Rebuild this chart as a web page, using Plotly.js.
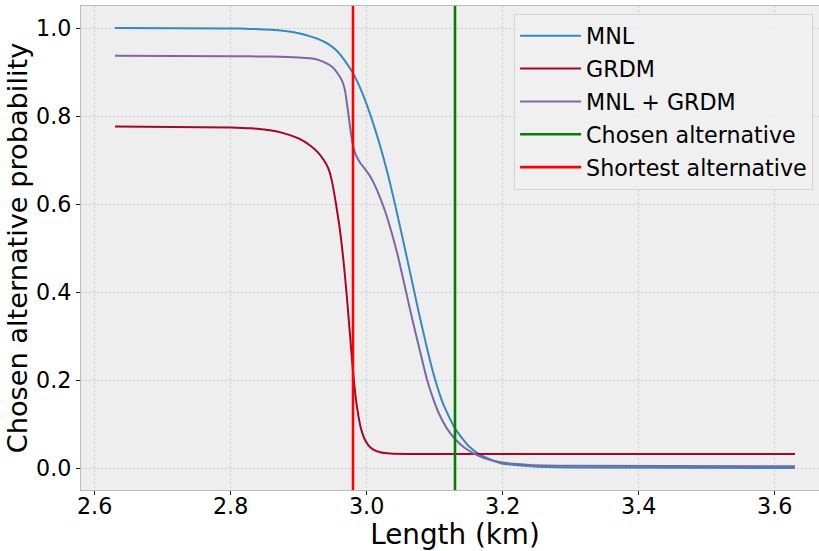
<!DOCTYPE html>
<html>
<head>
<meta charset="utf-8">
<script src="https://cdn.plot.ly/plotly-3.0.1.min.js"></script>
<style>
html,body{margin:0;padding:0;overflow:hidden;background:#fff;width:819px;height:551px;}
#chart{width:830px;height:551px;}
</style>
</head>
<body>
<div id="chart"></div>
<script>
// Curve samples
const mnlX  = [2.63, 2.80, 2.83, 2.86, 2.88, 2.90, 2.917, 2.93, 2.942, 2.955, 2.966, 2.979, 2.991, 3.005, 3.018, 3.030, 3.042, 3.054, 3.066, 3.078, 3.090, 3.100, 3.112, 3.130, 3.150, 3.167, 3.197, 3.241, 3.30, 3.63];
const mnlY  = [1.0, 0.999, 0.998, 0.996, 0.993, 0.988, 0.981, 0.974, 0.965, 0.950, 0.930, 0.900, 0.862, 0.805, 0.742, 0.675, 0.598, 0.515, 0.430, 0.345, 0.265, 0.205, 0.148, 0.090, 0.050, 0.030, 0.011, 0.004, 0.001, 0.0];

const grdmX = [2.63, 2.80, 2.83, 2.86, 2.88, 2.90, 2.917, 2.928, 2.937, 2.944, 2.949, 2.955, 2.960, 2.964, 2.968, 2.972, 2.976, 2.980, 2.984, 2.988, 2.992, 2.997, 3.003, 3.010, 3.020, 3.035, 3.06, 3.63];
const grdmY = [0.776, 0.774, 0.772, 0.767, 0.760, 0.749, 0.733, 0.718, 0.700, 0.680, 0.652, 0.600, 0.550, 0.500, 0.440, 0.370, 0.295, 0.220, 0.160, 0.118, 0.088, 0.066, 0.051, 0.042, 0.036, 0.033, 0.032, 0.032];

const bothX = [2.63, 2.80, 2.86, 2.90, 2.917, 2.93, 2.942, 2.950, 2.956, 2.964, 2.968, 2.971, 2.974, 2.977, 2.980, 2.984, 2.990, 2.997, 3.004, 3.012, 3.020, 3.028, 3.037, 3.046, 3.054, 3.062, 3.070, 3.080, 3.089, 3.098, 3.106, 3.118, 3.130, 3.145, 3.167, 3.197, 3.241, 3.30, 3.63];
const bothY = [0.937, 0.936, 0.935, 0.933, 0.931, 0.927, 0.919, 0.911, 0.900, 0.880, 0.860, 0.830, 0.795, 0.760, 0.733, 0.712, 0.695, 0.681, 0.666, 0.643, 0.614, 0.580, 0.534, 0.482, 0.428, 0.373, 0.320, 0.256, 0.200, 0.157, 0.125, 0.090, 0.066, 0.045, 0.026, 0.013, 0.007, 0.005, 0.004];

const chosenLength = 3.13;
const shortestLength = 2.98;
const xTicks = [2.6, 2.8, 3.0, 3.2, 3.4, 3.6];
const yTicks = [0.0, 0.2, 0.4, 0.6, 0.8, 1.0];
const yRange = [-0.05, 1.05];
const xRange = [2.58, 3.68];

const names = ["MNL", "GRDM", "MNL + GRDM", "Chosen alternative", "Shortest alternative"];
const colors = ["#348ABD", "#A60628", "#7A68A6", "#008000", "#FF0000"];

const curve = (x, y, i) => ({
  x: x, y: y, type: "scatter", mode: "lines", name: names[i], legendgroup: "g" + i,
  line: {color: colors[i], width: 2, shape: "spline", smoothing: 0.6}
});
const vline = (xv, i) => ({
  x: [xv, xv], y: yRange, type: "scatter", mode: "lines", name: names[i], legendgroup: "g" + i,
  line: {color: colors[i], width: 2.6}
});

const traces = [
  curve(mnlX, mnlY, 0),
  curve(grdmX, grdmY, 1),
  curve(bothX, bothY, 2),
  vline(chosenLength, 3),
  vline(shortestLength, 4)
];

const fam = "DejaVu Sans, sans-serif";
const axisCommon = {
  showline: true, linecolor: "#bcbcbc", linewidth: 1.2, mirror: true,
  showgrid: true, gridcolor: "#c4c4c4", gridwidth: 0.8, griddash: "2px,2px",
  zeroline: false, ticks: "outside", ticklen: 4, tickwidth: 1, tickcolor: "#222",
  tickfont: {family: fam, size: 22.2, color: "#000"}
};

const layout = {
  width: 830, height: 551,
  margin: {l: 81, r: 1, t: 6, b: 61},
  paper_bgcolor: "#ffffff", plot_bgcolor: "#eeeeee",
  font: {family: fam, color: "#000"},
  showlegend: true,
  legend: {
    x: 0.579, y: 0.984, xanchor: "left", yanchor: "top",
    bgcolor: "rgba(240,240,240,0.85)", bordercolor: "#d4d4d4", borderwidth: 1,
    font: {family: fam, size: 22.2, color: "#000"},
    tracegroupgap: 1, itemwidth: 61
  },
  xaxis: Object.assign({}, axisCommon, {
    range: xRange, tickvals: xTicks, ticktext: xTicks.map(v => v.toFixed(1)),
    ticklabelstandoff: -8,
    title: {text: "Length (km)", font: {family: fam, size: 27.8, color: "#000"}, standoff: 10}
  }),
  yaxis: Object.assign({}, axisCommon, {
    range: yRange, tickvals: yTicks, ticktext: yTicks.map(v => v.toFixed(1)),
    title: {text: "Chosen alternative probability", font: {family: fam, size: 27.2, color: "#000"}, standoff: 0}
  })
};

Plotly.newPlot("chart", traces, layout, {displayModeBar: false, staticPlot: true});
</script>
</body>
</html>
